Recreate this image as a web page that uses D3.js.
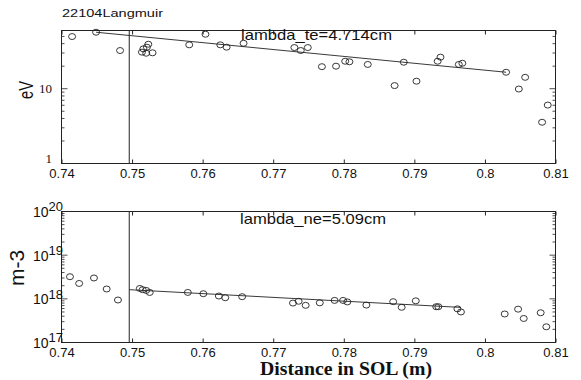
<!DOCTYPE html>
<html>
<head>
<meta charset="utf-8">
<script src="https://cdn.jsdelivr.net/npm/d3@7"></script>
<style>
  body { margin: 0; background: #fff; }
  svg { display: block; }
  text { fill: #111; }
</style>
</head>
<body>
<div id="container"></div>
<script>
// ---- data ----
const teDist = [0.7415, 0.7449, 0.7483, 0.7514, 0.7516, 0.7521, 0.7523, 0.7520, 0.7529,
  0.7581, 0.7604, 0.7625, 0.7634, 0.7658, 0.7730, 0.7739, 0.7749, 0.7769, 0.7789,
  0.7802, 0.7808, 0.7834, 0.7872, 0.7885, 0.7903, 0.7933, 0.7937, 0.7963, 0.7968,
  0.8030, 0.8048, 0.8057, 0.8081, 0.8089];
const teVal = [49.8, 56.9, 32.4, 30.8, 34.1, 35.9, 39.3, 29.8, 30.2,
  38.6, 53.5, 38.6, 35.9, 40.5, 35.5, 32.4, 35.5, 19.7, 20.0,
  23.3, 22.9, 21.1, 11.0, 22.6, 12.6, 23.3, 26.4, 21.1, 21.9,
  16.6, 9.9, 14.2, 3.56, 6.04];

const neDist = [0.7412, 0.7425, 0.7446, 0.7464, 0.7480, 0.7511, 0.7515, 0.7520, 0.7525,
  0.7579, 0.7601, 0.7623, 0.7632, 0.7656, 0.7728, 0.7736, 0.7746, 0.7766, 0.7787,
  0.7799, 0.7805, 0.7832, 0.7870, 0.7882, 0.7902, 0.7931, 0.7934, 0.7961, 0.7966,
  0.8028, 0.8047, 0.8055, 0.8079, 0.8087];
const neVal = [3.21e18, 2.25e18, 3.0e18, 1.68e18, 9.4e17, 1.73e18, 1.62e18, 1.56e18, 1.40e18,
  1.40e18, 1.31e18, 1.16e18, 1.06e18, 1.12e18, 8.0e17, 8.8e17, 7.1e17, 8.1e17, 9.2e17,
  9.2e17, 8.5e17, 7.2e17, 8.6e17, 6.4e17, 9.0e17, 6.6e17, 6.6e17, 5.9e17, 5.0e17,
  4.5e17, 5.8e17, 3.55e17, 4.8e17, 2.29e17];

// exponential fits (end points)
const teFitX = [0.7449, 0.8030], teFitY = [56.9, 16.6];
const neFitX = [0.7496, 0.7966], neFitY = [1.62e18, 6.36e17];
const separatrix = 0.7496;

const xTicks = [0.74, 0.75, 0.76, 0.77, 0.78, 0.79, 0.8, 0.81];
const xTickLabels = ["0.74", "0.75", "0.76", "0.77", "0.78", "0.79", "0.8", "0.81"];
const teMajor = [1, 10], teMajorLabels = ["1", "10"];
const neMajor = [1e17, 1e18, 1e19, 1e20], neMajorExp = ["17", "18", "19", "20"];

const title = "22104Langmuir";
const teNote = "lambda_te=4.714cm", neNote = "lambda_ne=5.09cm";
const xTitle = "Distance in SOL (m)";

// ---- layout ----
const width = 581, height = 380;
const left = 61.5, right = 555.5;
const topPanel = { top: 30.5, bottom: 163.5 };
const botPanel = { top: 211.5, bottom: 342.5 };
const ink = "#222";

const svg = d3.select("#container").append("svg")
  .attr("width", width).attr("height", height);

const x = d3.scaleLinear().domain([0.74, 0.81]).range([left, right]);

function panel(p, yScale, dist, vals, fitX, fitY) {
  const g = svg.append("g");
  const minor = yScale.ticks().filter(v => v > yScale.domain()[0] && v < yScale.domain()[1]);

  // bottom axis, ticks inward
  g.append("g")
    .attr("transform", `translate(0,${p.bottom})`)
    .call(d3.axisBottom(x).tickValues(xTicks).tickSize(-4).tickPadding(5)
      .tickFormat((d, i) => xTickLabels[i]))
    .call(a => a.select(".domain").remove())
    .call(a => a.selectAll("line").attr("stroke", ink))
    .call(a => a.selectAll("text").attr("font-family", "Liberation Sans, Arial, sans-serif")
      .attr("font-size", 13).attr("fill", ink));

  // top axis ticks
  g.append("g")
    .attr("transform", `translate(0,${p.top})`)
    .call(d3.axisTop(x).tickValues(xTicks).tickSize(-4).tickFormat(""))
    .call(a => a.select(".domain").remove())
    .call(a => a.selectAll("line").attr("stroke", ink));

  // left/right minor + major ticks
  [[left, 1], [right, -1]].forEach(([px, dir]) => {
    g.selectAll(null).data(minor).join("line")
      .attr("x1", px).attr("x2", d => px + dir * (Math.log10(d) % 1 === 0 ? 6 : 3))
      .attr("y1", d => yScale(d)).attr("y2", d => yScale(d))
      .attr("stroke", ink).attr("stroke-width", 0.8);
  });

  // frame
  g.append("rect")
    .attr("x", left).attr("y", p.top)
    .attr("width", right - left).attr("height", p.bottom - p.top)
    .attr("fill", "none").attr("stroke", ink).attr("stroke-width", 1);

  // separatrix line
  g.append("line")
    .attr("x1", x(separatrix)).attr("x2", x(separatrix))
    .attr("y1", p.top).attr("y2", p.bottom)
    .attr("stroke", ink).attr("stroke-width", 1);

  // fit line
  g.append("path")
    .datum(d3.zip(fitX, fitY))
    .attr("d", d3.line().x(d => x(d[0])).y(d => yScale(d[1])))
    .attr("fill", "none").attr("stroke", ink).attr("stroke-width", 0.9);

  // data points
  g.selectAll("ellipse.pt").data(d3.zip(dist, vals)).join("ellipse")
    .attr("class", "pt")
    .attr("cx", d => x(d[0])).attr("cy", d => yScale(d[1]))
    .attr("rx", 3.5).attr("ry", 3)
    .attr("fill", "none").attr("stroke", ink).attr("stroke-width", 0.9);

  return g;
}

// ---- top panel: Te ----
const yTe = d3.scaleLog().domain([1, 60]).range([topPanel.bottom, topPanel.top]);
const gTe = panel(topPanel, yTe, teDist, teVal, teFitX, teFitY);

gTe.selectAll("text.ylab").data(teMajor).join("text")
  .attr("class", "ylab")
  .attr("x", 52).attr("y", d => yTe(d) - (d === 1 ? 5 : 0)).attr("dy", "0.35em")
  .attr("text-anchor", "end")
  .attr("font-family", "Liberation Serif, serif").attr("font-size", 13)
  .text((d, i) => teMajorLabels[i]);

gTe.append("text")
  .attr("transform", `translate(33,${90}) rotate(-90)`)
  .attr("text-anchor", "middle")
  .attr("font-family", "Liberation Sans, Arial, sans-serif").attr("font-size", 21)
  .attr("textLength", 18).attr("lengthAdjust", "spacingAndGlyphs")
  .text("eV");

gTe.append("text")
  .attr("x", 241).attr("y", 39.5)
  .attr("font-family", "Liberation Sans, Arial, sans-serif").attr("font-size", 15)
  .attr("textLength", 151).attr("lengthAdjust", "spacingAndGlyphs")
  .text(teNote);

// ---- bottom panel: ne ----
const yNe = d3.scaleLog().domain([1e17, 1e20]).range([botPanel.bottom, botPanel.top]);
const gNe = panel(botPanel, yNe, neDist, neVal, neFitX, neFitY);

const neLab = gNe.selectAll("text.ylab").data(neMajor).join("text")
  .attr("class", "ylab")
  .attr("x", 33).attr("y", d => yNe(d)).attr("dy", "0.4em")
  .attr("font-family", "Liberation Sans, Arial, sans-serif").attr("font-size", 14);
neLab.append("tspan").text("10");
neLab.append("tspan").attr("dy", "-0.45em").attr("font-size", 13)
  .text((d, i) => neMajorExp[i]);

gNe.append("text")
  .attr("transform", `translate(24,${268}) rotate(-90)`)
  .attr("text-anchor", "middle")
  .attr("font-family", "Liberation Sans, Arial, sans-serif").attr("font-size", 21)
  .text("m-3");

gNe.append("text")
  .attr("x", 240).attr("y", 223.5)
  .attr("font-family", "Liberation Sans, Arial, sans-serif").attr("font-size", 15)
  .attr("textLength", 146).attr("lengthAdjust", "spacingAndGlyphs")
  .text(neNote);

// ---- titles ----
svg.append("text")
  .attr("x", 62).attr("y", 17)
  .attr("font-family", "Liberation Sans, Arial, sans-serif").attr("font-size", 11)
  .attr("textLength", 101).attr("lengthAdjust", "spacingAndGlyphs")
  .text(title);

svg.append("text")
  .attr("x", 260).attr("y", 375)
  .attr("font-family", "Liberation Serif, Times New Roman, serif")
  .attr("font-weight", "bold").attr("font-size", 18)
  .attr("textLength", 172).attr("lengthAdjust", "spacingAndGlyphs")
  .text(xTitle);
</script>
</body>
</html>
